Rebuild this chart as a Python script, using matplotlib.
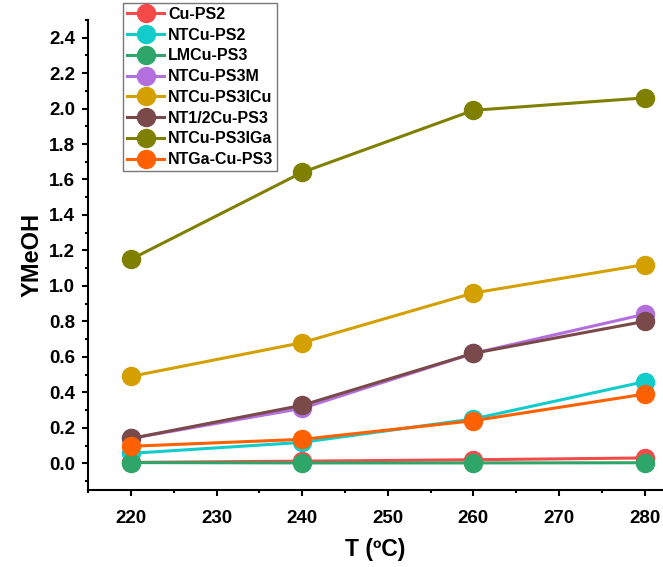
import os
import matplotlib
matplotlib.use("Agg")
import matplotlib.pyplot as plt
from matplotlib.ticker import MultipleLocator, FormatStrFormatter
from matplotlib.font_manager import FontProperties

plt.rcParams['font.family'] = ['Liberation Sans', 'DejaVu Sans']
plt.rcParams['font.weight'] = 'bold'

T = [220, 240, 260, 280]
names = ["Cu-PS2", "NTCu-PS2", "LMCu-PS3", "NTCu-PS3M", "NTCu-PS3ICu",
         "NT1/2Cu-PS3", "NTCu-PS3IGa", "NTGa-Cu-PS3"]
cu_ps2 = [0.005, 0.012, 0.02, 0.03]
ntcu_ps2 = [0.056, 0.118, 0.25, 0.46]
lmcu_ps3 = [0.004, 0.002, 0.002, 0.003]
ntcu_ps3m = [0.14, 0.31, 0.62, 0.84]
ntcu_ps3icu = [0.49, 0.68, 0.96, 1.12]
nt12cu_ps3 = [0.14, 0.327, 0.62, 0.80]
ntcu_ps3iga = [1.15, 1.64, 1.99, 2.06]
ntga_cu_ps3 = [0.096, 0.135, 0.24, 0.39]
series = [cu_ps2, ntcu_ps2, lmcu_ps3, ntcu_ps3m, ntcu_ps3icu,
          nt12cu_ps3, ntcu_ps3iga, ntga_cu_ps3]
colors = ["#F64A4A", "#12CCCC", "#2EA66A", "#B36FDE", "#D4A000",
          "#7A4A4A", "#808000", "#FF6100"]

bold_file = "/usr/share/fonts/truetype/liberation/LiberationSans-Bold.ttf"
if os.path.exists(bold_file):
    def fp(size):
        return FontProperties(fname=bold_file, size=size)
else:
    def fp(size):
        return FontProperties(family='Liberation Sans', weight='bold', size=size)

fig = plt.figure(figsize=(6.63, 5.67), dpi=100)
ax = fig.add_axes([0.133, 0.136, 0.865, 0.829])

for name, vals, c in zip(names, series, colors):
    ax.plot(T, vals, '-o', color=c, lw=2.2, ms=13, label=name)

ax.xaxis.set_major_locator(MultipleLocator(10))
ax.xaxis.set_minor_locator(MultipleLocator(5))
ax.yaxis.set_major_locator(MultipleLocator(0.2))
ax.yaxis.set_minor_locator(MultipleLocator(0.1))
ax.yaxis.set_major_formatter(FormatStrFormatter('%.1f'))
ax.set_xlim(215, 282)
ax.set_ylim(-0.15, 2.5)
ax.spines['top'].set_visible(False)
ax.spines['right'].set_visible(False)
for s in ['left', 'bottom']:
    ax.spines[s].set_linewidth(1.5)
ax.tick_params(which='major', direction='out', length=4.5, width=1.5)
ax.tick_params(axis='x', which='major', pad=10)
ax.tick_params(axis='y', which='major', pad=5)
ax.tick_params(which='minor', direction='out', length=2.5, width=1.5)
for lab in ax.get_xticklabels() + ax.get_yticklabels():
    lab.set_fontproperties(fp(13.5))

ax.set_xlabel("T (ºC)", fontproperties=fp(16.5), labelpad=8)
ax.set_ylabel("YMeOH", fontproperties=fp(17), labelpad=4)

leg = ax.legend(loc='upper left', bbox_to_anchor=(0.061, 1.036), borderaxespad=0,
                frameon=True, fancybox=False, handlelength=2.3,
                labelspacing=0.36, handletextpad=0.25, borderpad=0.25,
                prop=fp(11.5))
leg.get_frame().set_edgecolor('#555555')
leg.get_frame().set_linewidth(1.0)

fig.savefig("out.png", dpi=100)
